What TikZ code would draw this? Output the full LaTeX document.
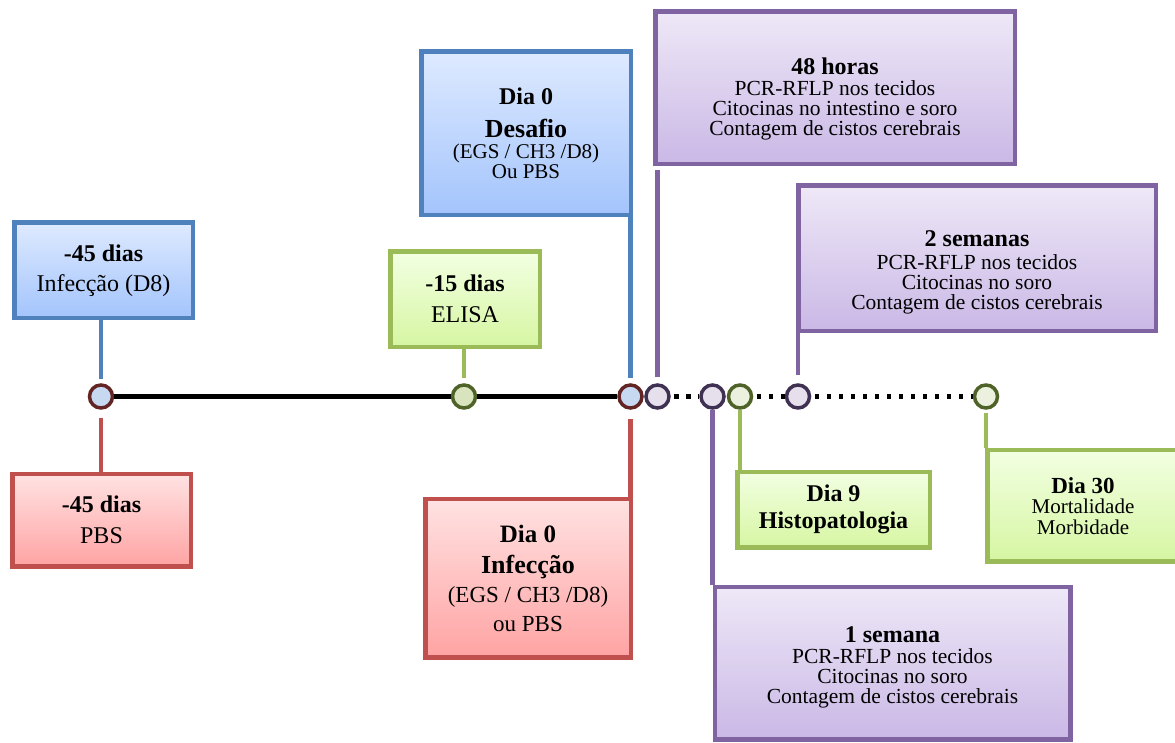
\documentclass[tikz,border=0pt]{standalone}
\usepackage{fontspec}
\setmainfont{Liberation Serif}
\usepackage{tikz}
\usetikzlibrary{positioning, shadows}
\definecolor{boxblue}{RGB}{79,129,189}
\definecolor{boxred}{RGB}{192,80,77}
\definecolor{boxgreen}{RGB}{155,187,89}
\definecolor{boxpurple}{RGB}{128,100,162}
\definecolor{bluetop}{RGB}{222,234,255}
\definecolor{bluebottom}{RGB}{163,196,252}
\definecolor{redtop}{RGB}{255,226,226}
\definecolor{redbottom}{RGB}{255,163,163}
\definecolor{greentop}{RGB}{242,255,226}
\definecolor{greenbottom}{RGB}{214,246,162}
\definecolor{purpletop}{RGB}{238,232,247}
\definecolor{purplebottom}{RGB}{202,184,230}
\definecolor{ringred}{RGB}{99,37,35}
\definecolor{ringgreen}{RGB}{79,98,40}
\definecolor{ringpurple}{RGB}{63,49,81}
\definecolor{dotblue}{RGB}{198,217,241}
\definecolor{dotgreen}{RGB}{215,228,189}
\definecolor{dotpale}{RGB}{235,241,222}
\definecolor{dotlilac}{RGB}{229,224,236}
\tikzset{
  stagebox/.style={
    line width=4.5pt, align=center, inner sep=0pt,
    drop shadow={opacity=0.25, shadow xshift=2pt, shadow yshift=-2pt},
    font=\fontsize{24}{30}\selectfont
  },
  bluebox/.style={stagebox, draw=boxblue, top color=bluetop, bottom color=bluebottom},
  redbox/.style={stagebox, draw=boxred, top color=redtop, bottom color=redbottom},
  greenbox/.style={stagebox, draw=boxgreen, top color=greentop, bottom color=greenbottom},
  purplebox/.style={stagebox, draw=boxpurple, top color=purpletop, bottom color=purplebottom,
    font=\fontsize{21.5}{20}\selectfont},
  ring/.style={circle, minimum size=23pt, inner sep=0pt, line width=3.5pt},
  redring/.style={ring, draw=ringred, fill=dotblue},
  greenring/.style={ring, draw=ringgreen, fill=dotgreen},
  paleRing/.style={ring, draw=ringgreen, fill=dotpale},
  purplering/.style={ring, draw=ringpurple, fill=dotlilac},
  link/.style={line width=4.5pt},
  bluelink/.style={link, draw=boxblue},
  redlink/.style={link, draw=boxred},
  greenlink/.style={link, draw=boxgreen},
  purplelink/.style={link, draw=boxpurple},
  solidline/.style={line width=5pt, draw=black},
  dottedline/.style={line width=4.5pt, draw=black,
    dash pattern=on 4.5pt off 7.5pt, dash phase=8.5pt},
}

\begin{document}
\begin{tikzpicture}[x=1pt, y=-1pt]
    \useasboundingbox (0,0) rectangle (1175,743);

    %% time points
    \node[redring] (c1) at (101,396.5) {};
    \node[greenring] (c2) at (464,396.5) {};
    \node[redring] (c3) at (630.5,396.5) {};
    \node[purplering] (c4) at (657.5,396.5) {};
    \node[purplering] (c5) at (712.5,396.5) {};
    \node[paleRing] (c6) at (740,396.5) {};
    \node[purplering] (c7) at (798,396.5) {};
    \node[paleRing] (c8) at (986,396.5) {};

    \draw[solidline] (c1) -- (c2);
    \draw[solidline] (c2) -- (c3);
    \draw[dottedline] (c4) -- (c5);
    \draw[dottedline] (c6) -- (c7);
    \draw[dottedline] (c7) -- (c8);

    %% before the challenge
    \node[bluebox, minimum width=178.5pt, minimum height=95.5pt,
      above=63pt of c1, xshift=2.5pt] (inf45)
      {\textbf{-45 dias}\\Infecção (D8)};
    \node[redbox, minimum width=178.5pt, minimum height=92.5pt,
      below=62pt of c1, xshift=0.5pt, font=\fontsize{24}{31}\selectfont] (pbs45)
      {\textbf{-45 dias}\\PBS};
    \node[greenbox, minimum width=149.5pt, minimum height=95.5pt,
      above=34pt of c2, xshift=1pt, font=\fontsize{24}{31}\selectfont] (elisa)
      {\textbf{-15 dias}\\ELISA};

    \draw[bluelink, shorten <=4pt] (c1) -- (c1 |- inf45.south);
    \draw[redlink, shorten <=8pt] (c1) -- (c1 |- pbs45.north);
    \draw[greenlink, shorten <=5pt] (c2) -- (c2 |- elisa.south);

    %% day 0
    \node[bluebox, minimum width=209.5pt, minimum height=163.5pt,
      above=166pt of c3, anchor=south east, xshift=2.5pt,
      font=\fontsize{21}{19.5}\selectfont] (desafio)
      {{\fontsize{24}{24}\selectfont\bfseries Dia 0}\\[13pt]
       {\fontsize{26}{26}\selectfont\bfseries Desafio}\\[2pt]
       (EGS / CH3 /D8)\\Ou PBS};
    \node[redbox, minimum width=205.5pt, minimum height=158.5pt,
      below=87pt of c3, anchor=north east, xshift=2.5pt,
      font=\fontsize{23}{29}\selectfont] (infec0)
      {{\fontsize{25}{25}\selectfont\bfseries Dia 0}\\[2pt]
       {\fontsize{26}{26}\selectfont\bfseries Infecção}\\
       (EGS / CH3 /D8)\\ou PBS};

    \draw[bluelink, shorten <=5pt] (c3) -- (c3 |- desafio.south);
    \draw[redlink, shorten <=9pt] (c3) -- (c3 |- infec0.north);

    %% after the challenge
    \node[purplebox, minimum width=359.5pt, minimum height=152.5pt,
      above=217pt of c4, anchor=south west, xshift=-4.5pt] (h48)
      {\rule{0pt}{39pt}{\fontsize{24}{24}\selectfont\bfseries 48 horas}\\[1pt]
       PCR-RFLP nos tecidos\\Citocinas no intestino e soro\\
       Contagem de cistos cerebrais};
    \node[purplebox, minimum width=355.5pt, minimum height=152.5pt,
      below=175pt of c5, anchor=north west, xshift=0pt] (sem1)
      {\rule{0pt}{24pt}{\fontsize{24}{24}\selectfont\bfseries 1 semana}\\[0.5pt]
       PCR-RFLP nos tecidos\\Citocinas no soro\\
       Contagem de cistos cerebrais};
    \node[greenbox, minimum width=192.5pt, minimum height=75.5pt,
      below=60pt of c6, anchor=north west, xshift=-5pt,
      font=\fontsize{24}{27}\selectfont\bfseries] (dia9)
      {Dia 9\\Histopatologia};
    \node[purplebox, minimum width=357.5pt, minimum height=145.5pt,
      above=50pt of c7, anchor=south west, xshift=-2pt] (sem2)
      {\rule{0pt}{45pt}{\fontsize{24}{24}\selectfont\bfseries 2 semanas}\\[3pt]
       PCR-RFLP nos tecidos\\Citocinas no soro\\
       Contagem de cistos cerebrais};
    \node[greenbox, minimum width=191.5pt, minimum height=111.5pt,
      below=38pt of c8, anchor=north west, xshift=-1pt,
      font=\fontsize{21}{20.5}\selectfont] (dia30)
      {{\fontsize{23}{23}\selectfont\bfseries Dia 30}\\Mortalidade\\Morbidade};

    \draw[purplelink, shorten <=6pt, shorten >=4pt] (c4) -- (c4 |- h48.south);
    \draw[purplelink] (c5) -- (c5 |- sem1.north);
    \draw[greenlink] (c6) -- (c6 |- dia9.north);
    \draw[purplelink, shorten <=8pt] (c7) -- (c7 |- sem2.south);
    \draw[greenlink, shorten <=3pt] (c8) -- (c8 |- dia30.north);
\end{tikzpicture}
\end{document}
